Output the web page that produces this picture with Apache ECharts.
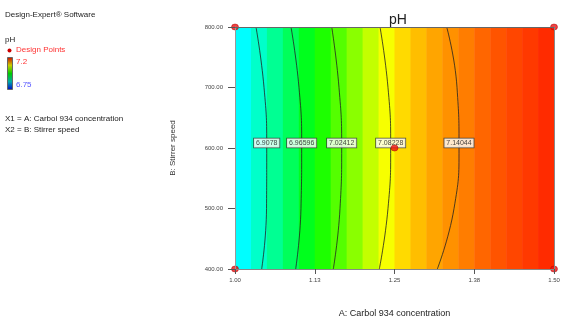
<!DOCTYPE html>
<html>
<head>
<meta charset="utf-8">
<script src="https://cdn.jsdelivr.net/npm/echarts@6/dist/echarts.min.js"></script>
<style>
html,body{margin:0;padding:0;background:#fff;}
#chart{width:577px;height:335px;}
</style>
</head>
<body>
<div id="chart"></div>
<script>
// ---- data ----
var titleText = 'pH';
var xName = 'A: Carbol 934 concentration';
var yName = 'B: Stirrer speed';
var xTickLabels = ['1.00', '1.13', '1.25', '1.38', '1.50'];
var yTickLabels = ['400.00', '500.00', '600.00', '700.00', '800.00'];

// column edges of the filled contour grid (A: concentration)
var colEdges = [1.000, 1.025, 1.050, 1.075, 1.100, 1.125, 1.150, 1.175, 1.200, 1.225, 1.250,
                1.275, 1.300, 1.325, 1.350, 1.375, 1.400, 1.425, 1.450, 1.475, 1.500];
// pH value of each column
var colPH = [6.862, 6.886, 6.910, 6.935, 6.962, 6.988, 7.012, 7.036, 7.061, 7.084,
             7.104, 7.116, 7.127, 7.136, 7.145, 7.155, 7.163, 7.169, 7.175, 7.181];

// contour lines: x position at y = 800, 700, 600, 500, 400
var contourY = [800, 700, 600, 500, 400];
var contourLabels = ['6.9078', '6.96596', '7.02412', '7.08228', '7.14044'];
var contourX = [
  [1.0329, 1.0455, 1.0497, 1.0494, 1.0418],
  [1.0878, 1.1003, 1.1045, 1.1034, 1.0951],
  [1.1516, 1.1630, 1.1672, 1.1646, 1.1541],
  [1.2273, 1.2398, 1.2440, 1.2398, 1.2262],
  [1.3318, 1.3480, 1.3511, 1.3433, 1.3171]
];

// design points
var designA = [1.00, 1.00, 1.50, 1.50, 1.25];
var designB = [400, 800, 400, 800, 600];

// ---- chart ----
var chart = echarts.init(document.getElementById('chart'), null, {renderer: 'canvas'});

var cells = [];
for (var i = 0; i < colPH.length; i++) {
  cells.push([colEdges[i], colEdges[i + 1], colPH[i]]);
}

var FONT = '"Liberation Sans", Arial, sans-serif';
var series = [];

series.push({
  type: 'custom',
  z: 1,
  data: cells,
  encode: {x: [0, 1]},
  renderItem: function (params, api) {
    var p0 = api.coord([api.value(0), 800]);
    var p1 = api.coord([api.value(1), 400]);
    return {
      type: 'rect',
      shape: {x: p0[0], y: p0[1], width: p1[0] - p0[0] + 0.5, height: p1[1] - p0[1]},
      style: {fill: api.visual('color')}
    };
  }
});

for (var c = 0; c < contourX.length; c++) {
  var pts = [];
  for (var k = 0; k < contourY.length; k++) pts.push([contourX[c][k], contourY[k]]);
  series.push({
    type: 'line',
    z: 3,
    data: pts,
    smooth: 0.5,
    symbol: 'none',
    silent: true,
    lineStyle: {color: '#222', width: 0.8}
  });
}

var labelPts = [];
for (var c2 = 0; c2 < contourX.length; c2++) {
  labelPts.push({value: [contourX[c2][2], contourY[2]], name: contourLabels[c2]});
}
series.push({
  type: 'scatter',
  z: 5,
  data: labelPts,
  symbolSize: 0,
  silent: true,
  label: {
    show: true,
    position: 'inside',
    offset: [0, -5],
    formatter: function (p) { return p.name; },
    fontFamily: FONT,
    fontSize: 7,
    color: '#111',
    backgroundColor: '#fff',
    borderColor: '#333',
    borderWidth: 0.8,
    padding: [1, 2, 0, 2],
    lineHeight: 8
  }
});

var dp = [];
for (var d = 0; d < designA.length; d++) dp.push([designA[d], designB[d]]);
series.push({
  type: 'scatter',
  z: 6,
  clip: false,
  data: dp,
  symbol: 'circle',
  symbolSize: [7, 6],
  itemStyle: {color: '#ee1111', borderColor: '#aa0000', borderWidth: 0.6}
});

var option = {
  animation: false,
  backgroundColor: '#fff',
  title: {
    text: titleText,
    left: 393,
    top: 8,
    textAlign: 'center',
    textStyle: {fontFamily: FONT, fontSize: 14, fontWeight: 'normal', color: '#222'}
  },
  grid: {left: 235, top: 27, right: 23, bottom: 66, containLabel: false},
  visualMap: {
    show: false,
    type: 'continuous',
    seriesIndex: 0,
    dimension: 2,
    min: 6.75,
    max: 7.2,
    inRange: {color: ['#0000FF', '#00FFFF', '#00FF00', '#FFFF00', '#FF0000']}
  },
  xAxis: [{
    type: 'value',
    min: 1,
    max: 1.5,
    interval: 0.125,
    z: 10,
    name: xName,
    nameLocation: 'middle',
    nameGap: 40,
    nameTextStyle: {fontFamily: FONT, fontSize: 9, color: '#222'},
    axisLine: {show: true, lineStyle: {color: '#888', width: 1}},
    axisTick: {show: true, length: 5, lineStyle: {color: '#555'}},
    splitLine: {show: false},
    axisLabel: {
      fontFamily: FONT, fontSize: 6, color: '#444', margin: 8,
      formatter: function (v) { return xTickLabels[Math.round((v - 1) / 0.125)]; }
    }
  }, {
    type: 'value',
    position: 'top',
    min: 1,
    max: 1.5,
    z: 10,
    axisLine: {show: true, onZero: false, lineStyle: {color: '#666', width: 1}},
    axisTick: {show: false},
    axisLabel: {show: false},
    splitLine: {show: false}
  }],
  yAxis: [{
    type: 'value',
    min: 400,
    max: 800,
    interval: 100,
    z: 10,
    name: yName,
    nameLocation: 'middle',
    nameGap: 58,
    nameTextStyle: {fontFamily: FONT, fontSize: 8, color: '#333'},
    axisLine: {show: true, lineStyle: {color: '#999', width: 1}},
    axisTick: {show: true, length: 7, lineStyle: {color: '#555'}},
    splitLine: {show: false},
    axisLabel: {
      fontFamily: FONT, fontSize: 6, color: '#444', margin: 12,
      formatter: function (v) { return yTickLabels[Math.round((v - 400) / 100)]; }
    }
  }, {
    type: 'value',
    position: 'right',
    min: 400,
    max: 800,
    z: 10,
    axisLine: {show: true, onZero: false, lineStyle: {color: '#888', width: 1}},
    axisTick: {show: false},
    axisLabel: {show: false},
    splitLine: {show: false}
  }],
  series: series,
  graphic: [
    {type: 'text', left: 5, top: 11, style: {text: 'Design-Expert\u00ae Software', font: '8px ' + FONT, fill: '#222'}},
    {type: 'text', left: 5, top: 36, style: {text: 'pH', font: '8px ' + FONT, fill: '#222'}},
    {type: 'circle', shape: {cx: 9.5, cy: 50.5, r: 2}, style: {fill: '#cc0000'}},
    {type: 'text', left: 16, top: 46, style: {text: 'Design Points', font: '8px ' + FONT, fill: '#ff3333'}},
    {type: 'rect', shape: {x: 7.5, y: 57.5, width: 5, height: 32},
      style: {
        stroke: '#666', lineWidth: 1,
        fill: {type: 'linear', x: 0, y: 0, x2: 0, y2: 1, colorStops: [
          {offset: 0, color: '#cc0000'}, {offset: 0.25, color: '#cccc00'},
          {offset: 0.5, color: '#00cc00'}, {offset: 0.75, color: '#00aaaa'},
          {offset: 1, color: '#0000cc'}]}
      }},
    {type: 'text', left: 16, top: 58, style: {text: '7.2', font: '8px ' + FONT, fill: '#ff3333'}},
    {type: 'text', left: 16, top: 81, style: {text: '6.75', font: '8px ' + FONT, fill: '#5555ff'}},
    {type: 'text', left: 5, top: 115, style: {text: 'X1 = A: Carbol 934 concentration', font: '8px ' + FONT, fill: '#222'}},
    {type: 'text', left: 5, top: 126, style: {text: 'X2 = B: Stirrer speed', font: '8px ' + FONT, fill: '#222'}}
  ]
};
chart.setOption(option);
</script>
</body>
</html>
